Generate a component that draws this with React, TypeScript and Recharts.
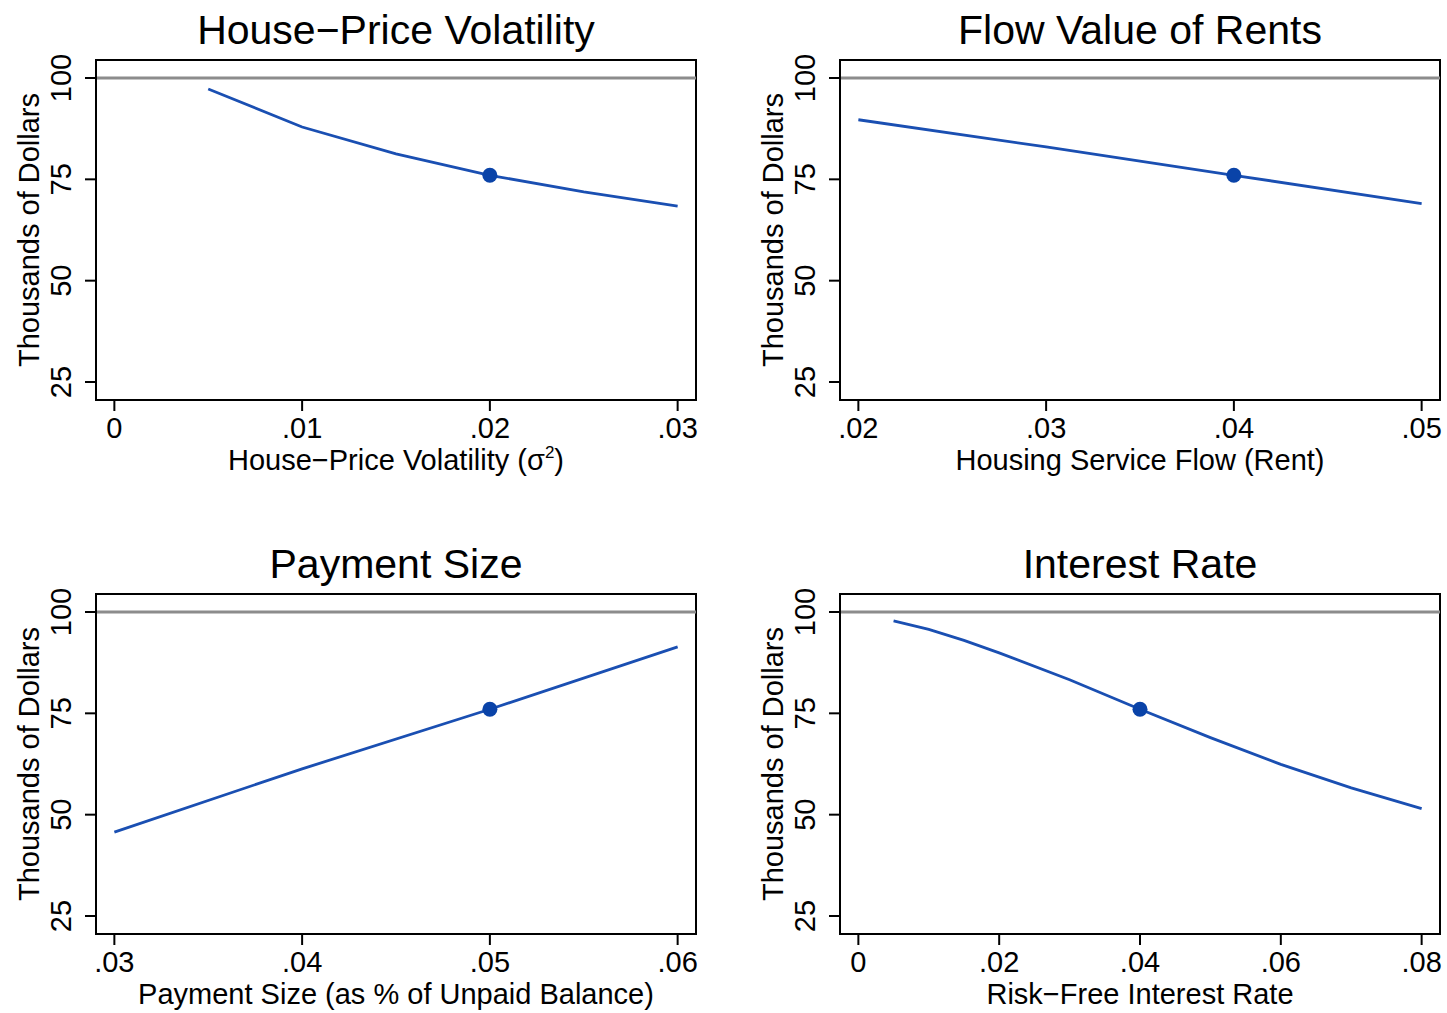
import React from "react";
import {
  ComposedChart,
  Line,
  Scatter,
  XAxis,
  YAxis,
  ReferenceLine,
  ReferenceArea,
  Label,
} from "recharts";

// House-price volatility panel
const volX = [0.005, 0.01, 0.015, 0.02, 0.025, 0.03];
const volY = [97.3, 87.9, 81.3, 76.0, 71.9, 68.4];
const volTicks = [0, 0.01, 0.02, 0.03];
const volBase = 0.02;

// Flow value of rents panel
const rentX = [0.02, 0.03, 0.04, 0.05];
const rentY = [89.7, 83.0, 76.0, 69.0];
const rentTicks = [0.02, 0.03, 0.04, 0.05];
const rentBase = 0.04;

// Payment size panel
const payX = [0.03, 0.04, 0.05, 0.06];
const payY = [45.7, 61.3, 76.0, 91.4];
const payTicks = [0.03, 0.04, 0.05, 0.06];
const payBase = 0.05;

// Interest rate panel
const rateX = [0.005, 0.01, 0.015, 0.02, 0.03, 0.04, 0.05, 0.06, 0.07, 0.08];
const rateY = [97.8, 95.7, 93.0, 89.9, 83.3, 76.0, 69.0, 62.4, 56.6, 51.5];
const rateTicks = [0, 0.02, 0.04, 0.06, 0.08];
const rateBase = 0.04;

const yTicks = [25, 50, 75, 100];
const yDomain: [number, number] = [20.56, 104.44];

const FONT = '"Liberation Sans", Arial, Helvetica, sans-serif';
const LINE_BLUE = "#1a4fb2";
const DOT_BLUE = "#0a43a8";
const W = 720;
const H = 534;

const fmt = (v: number) =>
  v === 0 ? "0" : String(+v.toFixed(3)).replace(/^0\./, ".");

const XTick = (props: any) => {
  const { x, y, payload } = props;
  return (
    <text x={x} y={y + 25} textAnchor="middle" fontSize={29} fill="#000" fontFamily={FONT}>
      {fmt(payload.value)}
    </text>
  );
};

const YTick = (props: any) => {
  const { x, y, payload } = props;
  return (
    <text
      x={x}
      y={y}
      transform={`rotate(-90, ${x}, ${y})`}
      textAnchor="middle"
      fontSize={29}
      fill="#000"
      fontFamily={FONT}
    >
      {payload.value}
    </text>
  );
};

interface PanelProps {
  title: string;
  xLabel: React.ReactNode;
  xs: number[];
  ys: number[];
  ticks: number[];
  base: number;
  left: number;
  top: number;
}

function Panel({ title, xLabel, xs, ys, ticks, base, left, top }: PanelProps) {
  const data = xs.map((x, i) => ({ x, y: ys[i] }));
  const baseY = ys[xs.indexOf(base)];
  const lo = ticks[0];
  const hi = ticks[ticks.length - 1];
  const pad = (hi - lo) * 0.0326;
  const xDomain: [number, number] = [lo - pad, hi + pad];

  return (
    <div style={{ position: "absolute", left, top, width: W, height: H }}>
      <div
        style={{
          position: "absolute",
          left: 96,
          width: 600,
          top: 10,
          textAlign: "center",
          fontFamily: FONT,
          fontSize: 41,
          lineHeight: "40px",
          color: "#000",
          whiteSpace: "nowrap",
        }}
      >
        {title}
      </div>
      <ComposedChart
        width={W}
        height={H}
        data={data}
        margin={{ top: 60, right: 24, left: 0, bottom: 0 }}
      >
        <XAxis
          dataKey="x"
          type="number"
          domain={xDomain}
          ticks={ticks}
          allowDataOverflow
          height={134}
          tickSize={11}
          tickLine={{ stroke: "#000", strokeWidth: 2 }}
          axisLine={{ stroke: "#000", strokeWidth: 2 }}
          tick={<XTick />}
        >
          <Label
            content={(p: any) => {
              const vb = p.viewBox;
              return (
                <text
                  x={vb.x + vb.width / 2}
                  y={vb.y + 70}
                  textAnchor="middle"
                  fontSize={29}
                  fill="#000"
                  fontFamily={FONT}
                >
                  {xLabel}
                </text>
              );
            }}
          />
        </XAxis>
        <YAxis
          type="number"
          domain={yDomain}
          ticks={yTicks}
          allowDataOverflow
          width={96}
          tickSize={11}
          tickMargin={14}
          tickLine={{ stroke: "#000", strokeWidth: 2 }}
          axisLine={{ stroke: "#000", strokeWidth: 2 }}
          tick={<YTick />}
        >
          <Label
            content={(p: any) => {
              const vb = p.viewBox;
              const cx = vb.x + 39;
              const cy = vb.y + vb.height / 2;
              return (
                <text
                  x={cx}
                  y={cy}
                  transform={`rotate(-90, ${cx}, ${cy})`}
                  textAnchor="middle"
                  fontSize={29}
                  fill="#000"
                  fontFamily={FONT}
                >
                  Thousands of Dollars
                </text>
              );
            }}
          />
        </YAxis>
        <ReferenceArea
          x1={xDomain[0]}
          x2={xDomain[1]}
          y1={yDomain[0]}
          y2={yDomain[1]}
          fill="none"
          stroke="#000"
          strokeWidth={2}
          fillOpacity={0}
        />
        <ReferenceLine y={100} stroke="#8c8c8c" strokeWidth={3} />
        <Line
          dataKey="y"
          type="linear"
          stroke={LINE_BLUE}
          strokeWidth={2.8}
          dot={false}
          activeDot={false}
          isAnimationActive={false}
        />
        <Scatter
          data={[{ x: base, y: baseY }]}
          dataKey="y"
          fill={DOT_BLUE}
          isAnimationActive={false}
          shape={(p: any) => <circle cx={p.cx} cy={p.cy} r={7.5} fill={DOT_BLUE} />}
        />
      </ComposedChart>
    </div>
  );
}

export default function App() {
  return (
    <div
      style={{
        position: "absolute",
        left: 0,
        top: 0,
        width: 1447,
        height: 1013,
        overflow: "hidden",
        background: "#fff",
      }}
    >
      <Panel
        title="House−Price Volatility"
        xLabel={
          <>
            House−Price Volatility (σ
            <tspan dy={-12} fontSize={17}>
              2
            </tspan>
            <tspan dy={12}>)</tspan>
          </>
        }
        xs={volX}
        ys={volY}
        ticks={volTicks}
        base={volBase}
        left={0}
        top={0}
      />
      <Panel
        title="Flow Value of Rents"
        xLabel="Housing Service Flow (Rent)"
        xs={rentX}
        ys={rentY}
        ticks={rentTicks}
        base={rentBase}
        left={744}
        top={0}
      />
      <Panel
        title="Payment Size"
        xLabel="Payment Size (as % of Unpaid Balance)"
        xs={payX}
        ys={payY}
        ticks={payTicks}
        base={payBase}
        left={0}
        top={534}
      />
      <Panel
        title="Interest Rate"
        xLabel="Risk−Free Interest Rate"
        xs={rateX}
        ys={rateY}
        ticks={rateTicks}
        base={rateBase}
        left={744}
        top={534}
      />
    </div>
  );
}
